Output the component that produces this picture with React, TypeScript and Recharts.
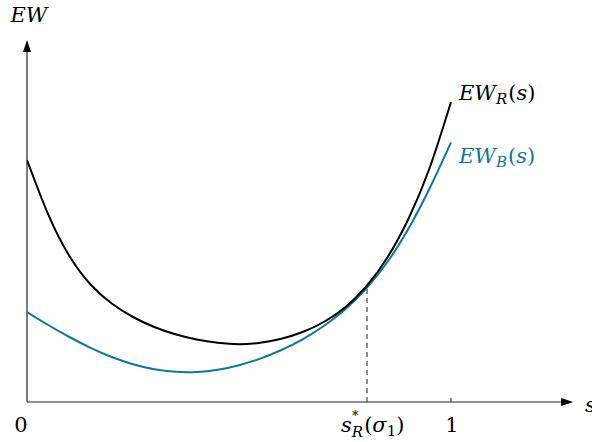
import React from "react";
import {
  ComposedChart,
  Line,
  XAxis,
  YAxis,
  ReferenceLine,
  ReferenceDot,
} from "recharts";

const sValues = [0, 0.05, 0.1, 0.15, 0.2, 0.25, 0.3, 0.35, 0.4, 0.45, 0.5, 0.55, 0.6, 0.65, 0.7, 0.75, 0.8, 0.85, 0.9, 0.95, 1.0];
const ewR = [2.42, 1.876, 1.46, 1.175, 0.985, 0.85, 0.75, 0.677, 0.625, 0.592, 0.578, 0.593, 0.633, 0.7, 0.8, 0.945, 1.155, 1.445, 1.835, 2.345, 3.0];
const ewB = [0.9, 0.77, 0.65, 0.542, 0.45, 0.378, 0.328, 0.302, 0.3, 0.322, 0.368, 0.434, 0.52, 0.627, 0.76, 0.925, 1.135, 1.4, 1.735, 2.14, 2.595];
const sStar = 0.802;
const sStarValue = 1.15;
const xTicks = [0, sStar, 1];
const xMax = 1.3;
const yMax = 3.62;
const xArrow = 1.288;

const data = sValues.map((s, i) => ({ s, R: ewR[i], B: ewB[i] }));

const BLACK = "#000000";
const BLUE = "#0f7896";
const FONT = "'DejaVu Serif', 'Liberation Serif', serif";
const FS = 21;
const SUB = 15;

const TickLabel = (props: any) => {
  const { x, payload } = props;
  const v = payload.value;
  if (v === 0) {
    return (
      <text x={x - 6} y={432} textAnchor="middle" fontFamily={FONT} fontSize={FS} fill="#000">0</text>
    );
  }
  if (v === 1) {
    return (
      <text x={x + 1} y={432} textAnchor="middle" fontFamily={FONT} fontSize={FS} fill="#000">1</text>
    );
  }
  return (
    <g>
      <text x={x - 26} y={432} fontFamily={FONT} fontSize={FS} fill="#000">
        <tspan fontStyle="italic">s</tspan>
        <tspan fontStyle="italic" fontSize={SUB} dy={5}>R</tspan>
        <tspan dy={-5} dx={1}>(</tspan>
        <tspan fontStyle="italic">σ</tspan>
        <tspan fontSize={SUB} dy={4}>1</tspan>
        <tspan dy={-4}>)</tspan>
      </text>
      <text x={x - 15} y={420} fontFamily={FONT} fontSize={13} fill="#000">*</text>
    </g>
  );
};

const SeriesLabel = ({ x, y, sub, color }: any) => (
  <text x={x} y={y} fontFamily={FONT} fontSize={FS} fill={color}>
    <tspan fontStyle="italic">EW</tspan>
    <tspan fontStyle="italic" fontSize={SUB} dy={4}>{sub}</tspan>
    <tspan dy={-4} dx={1}>(</tspan>
    <tspan fontStyle="italic">s</tspan>
    <tspan>)</tspan>
  </text>
);

export default function App() {
  return (
    <div style={{ position: "absolute", left: 0, top: 0, width: 592, height: 442, background: "#fff" }}>
      <ComposedChart
        width={592}
        height={442}
        data={data}
        margin={{ top: 40, right: 592 - 27 - xMax * 424, bottom: 0, left: 27 }}
      >
        <XAxis
          dataKey="s"
          type="number"
          domain={[0, xMax]}
          ticks={xTicks}
          axisLine={false}
          tickLine={false}
          tick={<TickLabel />}
          height={40}
          allowDataOverflow
          interval={0}
        />
        <YAxis type="number" domain={[0, yMax]} hide allowDataOverflow />
        <ReferenceLine
          segment={[{ x: 0, y: 0 }, { x: xArrow - 0.02, y: 0 }]}
          stroke="#222"
          strokeWidth={1.2}
          ifOverflow="visible"
        />
        <ReferenceLine
          segment={[{ x: 0, y: 0 }, { x: 0, y: yMax - 0.08 }]}
          stroke="#222"
          strokeWidth={1.2}
          ifOverflow="visible"
        />
        <ReferenceLine
          segment={[{ x: 1, y: 0 }, { x: 1, y: 0.04 }]}
          stroke="#222"
          strokeWidth={1}
          ifOverflow="visible"
        />
        <ReferenceLine
          segment={[{ x: sStar, y: 0 }, { x: sStar, y: sStarValue }]}
          stroke="#222"
          strokeWidth={1}
          strokeDasharray="5 4"
          ifOverflow="visible"
        />
        <ReferenceDot
          x={xArrow}
          y={0}
          r={0}
          ifOverflow="visible"
          shape={(p: any) => (
            <g>
              <polygon
                points={`${p.cx},${p.cy} ${p.cx - 12},${p.cy - 4} ${p.cx - 12},${p.cy + 4}`}
                fill="#000"
              />
              <text x={p.cx + 12} y={p.cy + 10} fontFamily={FONT} fontStyle="italic" fontSize={FS} fill="#000">s</text>
            </g>
          )}
        />
        <ReferenceDot
          x={0}
          y={yMax}
          r={0}
          ifOverflow="visible"
          shape={(p: any) => (
            <g>
              <polygon
                points={`${p.cx},${p.cy} ${p.cx - 4},${p.cy + 12} ${p.cx + 4},${p.cy + 12}`}
                fill="#000"
              />
              <text x={p.cx + 2} y={p.cy - 18} textAnchor="middle" fontFamily={FONT} fontStyle="italic" fontSize={FS} fill="#000">EW</text>
            </g>
          )}
        />
        <Line
          type="natural"
          dataKey="B"
          stroke={BLUE}
          strokeWidth={2}
          dot={false}
          isAnimationActive={false}
        />
        <Line
          type="natural"
          dataKey="R"
          stroke={BLACK}
          strokeWidth={2}
          dot={false}
          isAnimationActive={false}
        />
        <ReferenceDot
          x={1}
          y={ewR[ewR.length - 1]}
          r={0}
          ifOverflow="visible"
          shape={(p: any) => <SeriesLabel x={p.cx + 8} y={p.cy - 2} sub="R" color={BLACK} />}
        />
        <ReferenceDot
          x={1}
          y={ewB[ewB.length - 1]}
          r={0}
          ifOverflow="visible"
          shape={(p: any) => <SeriesLabel x={p.cx + 8} y={p.cy + 20} sub="B" color={BLUE} />}
        />
      </ComposedChart>
    </div>
  );
}
